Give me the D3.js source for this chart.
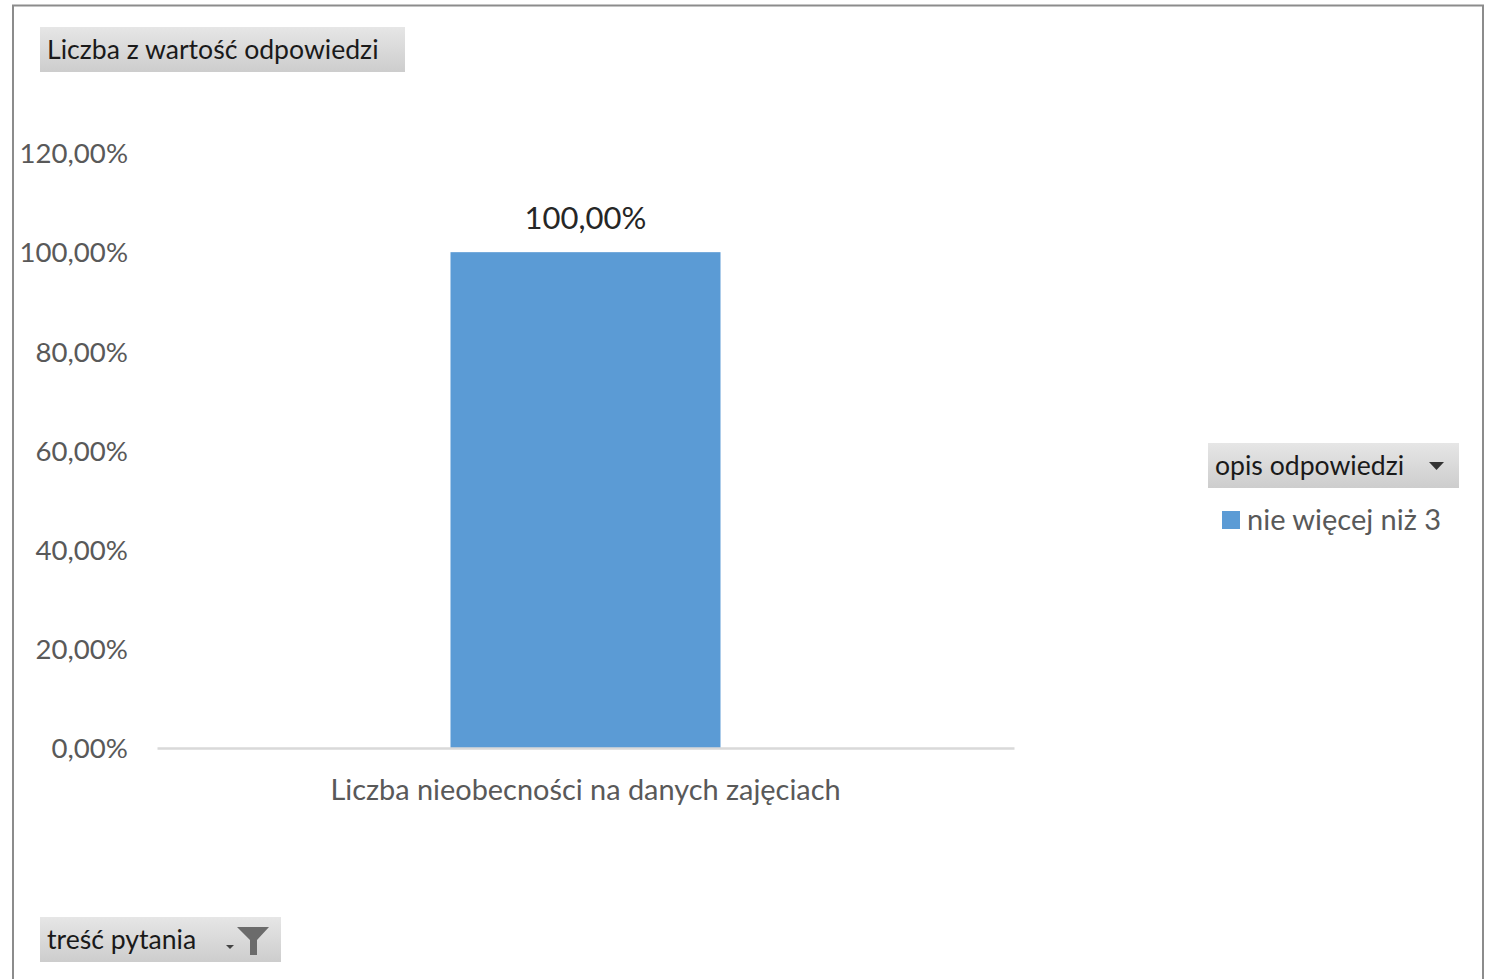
<!DOCTYPE html>
<html><head><meta charset="utf-8">
<script src="https://cdn.jsdelivr.net/npm/d3@7"></script>
<style>
html,body{margin:0;padding:0;background:#fff;}
svg{display:block;}
text{font-family:"Lato","Open Sans",sans-serif;}
</style></head>
<body>
<svg id="chart" width="1489" height="979"></svg>
<script>
const categories = ["Liczba nieobecności na danych zajęciach"];
const seriesName = "nie więcej niż 3";
const values = [1.0];
const yTicks = [0, 0.2, 0.4, 0.6, 0.8, 1.0, 1.2];
const valueFieldLabel = "Liczba z wartość odpowiedzi";
const legendFieldLabel = "opis odpowiedzi";
const filterFieldLabel = "treść pytania";

const svg = d3.select("#chart");
const fmt = v => (v*100).toFixed(2).replace(".", ",") + "%";

const defs = svg.append("defs");
const grad = defs.append("linearGradient").attr("id","btn").attr("x1",0).attr("y1",0).attr("x2",0).attr("y2",1);
grad.append("stop").attr("offset","0%").attr("stop-color","#e6e6e6");
grad.append("stop").attr("offset","100%").attr("stop-color","#cdcdcd");

// outer frame
svg.append("rect").attr("x",13).attr("y",5.5).attr("width",1470).attr("height",1000)
  .attr("fill","#fff").attr("stroke","#8c8c8c").attr("stroke-width",2);

const x = d3.scaleBand().domain(categories).range([157, 1014]).paddingInner(0).paddingOuter(1.087);
const y = d3.scaleLinear().domain([0, 1.2]).range([748, 153]);

// y axis
const yAxis = svg.append("g").attr("transform","translate(128,0)")
  .call(d3.axisLeft(y).tickValues(yTicks).tickFormat(fmt).tickSize(0).tickPadding(0));
yAxis.select(".domain").remove();
yAxis.selectAll("text").attr("font-size",27.6).attr("fill","#595959").attr("font-family","Lato, sans-serif").attr("dy","0.35em");

// bars
svg.selectAll("rect.bar").data(values).enter().append("rect").attr("class","bar")
  .attr("x",(d,i)=>x(categories[i])).attr("width",x.bandwidth())
  .attr("y",d=>y(d)).attr("height",d=>y(0)-y(d)).attr("fill","#5b9bd5");

// data labels
svg.selectAll("text.dl").data(values).enter().append("text").attr("class","dl")
  .attr("x",(d,i)=>x(categories[i])+x.bandwidth()/2).attr("y",d=>y(d)-34)
  .attr("text-anchor","middle").attr("dy","0.35em").attr("font-size",31).attr("fill","#262626").text(fmt);

// x axis
const xAxis = svg.append("g").attr("transform","translate(0,748)")
  .call(d3.axisBottom(x).tickSize(0).tickPadding(52));
xAxis.select(".domain").attr("stroke","#d9d9d9").attr("stroke-width",2.5);
xAxis.selectAll("text").attr("font-size",28.9).attr("fill","#595959").attr("font-family","Lato, sans-serif").attr("dy","0");

// buttons
function button(x0,y0,w,h,label,fs){
  const g = svg.append("g");
  g.append("rect").attr("x",x0).attr("y",y0).attr("width",w).attr("height",h).attr("fill","url(#btn)");
  g.append("text").attr("x",x0+7).attr("y",y0+h/2).attr("dy","0.35em").attr("font-size",fs).attr("fill","#1a1a1a").text(label);
  return g;
}
button(40,27,365,45,valueFieldLabel,26.6);
const lg = button(1208,443,251,45,legendFieldLabel,26.6);
lg.append("path").attr("d","M1429,462 L1444,462 L1436.5,470 Z").attr("fill","#333");
const fg = button(40,917,241,45,filterFieldLabel,26.6);
fg.append("path").attr("d","M226,945 L234,945 L230,949 Z").attr("fill","#444");
fg.append("path").attr("d","M237,927 L269,927 L257,940 L257,955 L250,955 L250,940 Z").attr("fill","#6b6b6b");

// legend item
svg.append("rect").attr("x",1222).attr("y",511).attr("width",18).attr("height",18).attr("fill","#5b9bd5");
svg.append("text").attr("x",1247).attr("y",520).attr("dy","0.35em").attr("font-size",29).attr("fill","#595959").text(seriesName);
</script>
</body></html>
